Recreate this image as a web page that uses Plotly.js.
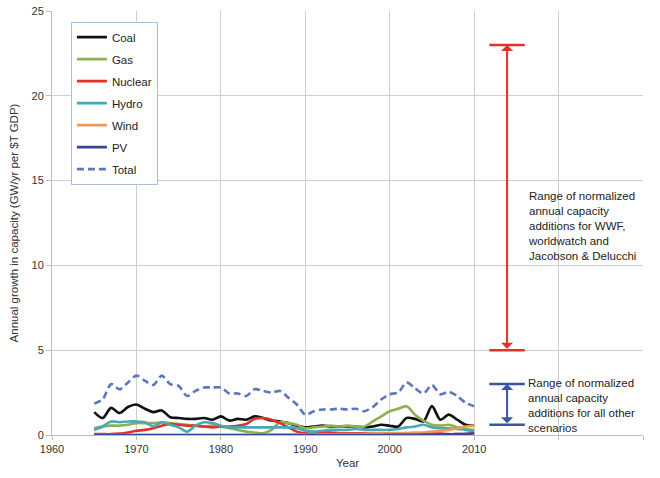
<!DOCTYPE html>
<html>
<head>
<meta charset="utf-8">
<script src="https://cdn.plot.ly/plotly-3.0.1.min.js"></script>
<style>html,body{margin:0;padding:0;background:#fff;}#chart{width:660px;height:478px;}</style>
</head>
<body>
<div id="chart"></div>
<script>
var years = [];
for (var yr = 1965; yr <= 2010; yr++) years.push(yr);

var coal = [1.35,1.0,1.6,1.3,1.65,1.8,1.55,1.35,1.45,1.05,1.0,0.95,0.95,1.0,0.9,1.1,0.85,0.95,0.9,1.1,1.0,0.85,0.8,0.7,0.55,0.45,0.5,0.55,0.5,0.5,0.5,0.5,0.45,0.5,0.6,0.55,0.5,1.0,0.95,0.8,1.7,0.9,1.2,0.9,0.6,0.55];
var gas = [0.4,0.5,0.55,0.55,0.6,0.7,0.7,0.7,0.75,0.7,0.65,0.6,0.55,0.5,0.55,0.5,0.4,0.3,0.2,0.15,0.1,0.3,0.75,0.7,0.6,0.4,0.45,0.5,0.55,0.5,0.55,0.5,0.5,0.8,1.1,1.4,1.55,1.7,1.2,0.85,0.6,0.55,0.6,0.45,0.35,0.3];
var nuclear = [0.05,0.05,0.05,0.08,0.15,0.25,0.3,0.4,0.55,0.65,0.6,0.55,0.55,0.5,0.45,0.5,0.5,0.55,0.65,0.95,1.0,0.9,0.7,0.45,0.2,0.1,0.1,0.15,0.15,0.1,0.1,0.1,0.1,0.08,0.08,0.1,0.08,0.1,0.08,0.08,0.1,0.08,0.05,0.05,0.05,0.1];
var hydro = [0.3,0.5,0.8,0.75,0.8,0.8,0.75,0.5,0.75,0.6,0.45,0.2,0.55,0.75,0.7,0.55,0.45,0.45,0.45,0.45,0.45,0.45,0.45,0.45,0.4,0.25,0.2,0.25,0.3,0.3,0.3,0.35,0.3,0.3,0.3,0.3,0.35,0.45,0.5,0.6,0.45,0.4,0.4,0.35,0.3,0.2];
var wind = [0,0,0,0,0,0,0,0,0,0,0,0,0,0,0,0,0,0,0,0,0,0.02,0.02,0.02,0.03,0.03,0.03,0.04,0.04,0.05,0.05,0.05,0.07,0.08,0.1,0.1,0.12,0.12,0.15,0.15,0.2,0.25,0.3,0.4,0.5,0.55];
var pv = [0,0,0,0,0,0,0,0,0,0,0,0,0,0,0,0,0,0,0,0,0,0,0,0,0,0,0,0,0,0,0,0,0,0,0,0.01,0.01,0.01,0.01,0.02,0.02,0.03,0.04,0.05,0.07,0.1];
var total = [1.85,2.1,3.0,2.7,3.1,3.5,3.2,2.95,3.5,3.0,2.9,2.3,2.6,2.8,2.8,2.8,2.45,2.45,2.3,2.7,2.6,2.5,2.6,2.2,1.8,1.2,1.4,1.5,1.5,1.55,1.5,1.55,1.4,1.65,2.1,2.4,2.5,3.1,2.75,2.45,2.95,2.4,2.55,2.3,1.9,1.7];

var seriesNames = ['Coal','Gas','Nuclear','Hydro','Wind','PV','Total'];
var seriesData = [coal, gas, nuclear, hydro, wind, pv, total];
var seriesColors = ['#111111','#8fb04c','#e2302a','#47a9b5','#e99a5a','#38479a','#5a78c0'];

var tickYears = [1960,1970,1980,1990,2000,2010,2020,2030];
var tickLabels = ['1960','1970','1980','1990','2000','2010','',''];

// Scenario ranges (x position in years, y range in GW/yr per $T GDP)
var rangeX = 2013.9;
var rangeHalfCap = 2.1;
var rangeHigh = [5, 23];
var rangeLow = [0.6, 3];
var highColor = '#e2302a';
var lowColor = '#3b55a5';

var traces = seriesNames.map(function(n, i) {
  return {
    x: years, y: seriesData[i], name: n, type: 'scatter', mode: 'lines',
    legendgroup: n,
    line: {color: seriesColors[i], width: 2.6, shape: 'spline', smoothing: 0.8,
           dash: n === 'Total' ? '7px,4px' : 'solid'}
  };
});

var shapes = [];
[[rangeHigh, highColor], [rangeLow, lowColor]].forEach(function(r) {
  r[0].forEach(function(v) {
    shapes.push({type: 'line', xref: 'x', yref: 'y', x0: rangeX - rangeHalfCap, x1: rangeX + rangeHalfCap,
                 y0: v, y1: v, line: {color: r[1], width: 2.5}});
  });
});

function dblArrow(rng, col) {
  return {x: rangeX, y: rng[1], ax: rangeX, ay: rng[0], xref: 'x', yref: 'y', axref: 'x', ayref: 'y',
          showarrow: true, arrowhead: 1, startarrowhead: 1, arrowside: 'end+start', arrowsize: 1, startarrowsize: 1,
          arrowwidth: 2, arrowcolor: col, text: ''};
}

var annotations = [
  dblArrow(rangeHigh, highColor),
  dblArrow(rangeLow, lowColor),
  {x: 2016.2, y: 12.3, xref: 'x', yref: 'y', xanchor: 'left', yanchor: 'middle', align: 'left', showarrow: false,
   text: 'Range of normalized<br>annual capacity<br>additions for WWF,<br>worldwatch and<br>Jacobson &amp; Delucchi',
   font: {family: 'Liberation Sans, Arial, sans-serif', size: 11.5, color: '#222'}},
  {x: 2016.2, y: 1.72, xref: 'x', yref: 'y', xanchor: 'left', yanchor: 'middle', align: 'left', showarrow: false,
   text: 'Range of normalized<br>annual capacity<br>additions for all other<br>scenarios',
   font: {family: 'Liberation Sans, Arial, sans-serif', size: 11.5, color: '#222'}}
];

var layout = {
  width: 660, height: 478,
  margin: {l: 52, r: 17, t: 11, b: 43},
  paper_bgcolor: '#fff', plot_bgcolor: '#fff',
  font: {family: 'Liberation Sans, Arial, sans-serif', size: 11, color: '#333'},
  showlegend: true,
  legend: {x: 0.032, y: 0.975, xanchor: 'left', yanchor: 'top', bgcolor: '#fff',
           bordercolor: '#a9c1dd', borderwidth: 1, font: {size: 11.5, color: '#222'},
           traceorder: 'grouped', tracegroupgap: 3},
  xaxis: {range: [1960, 2030], tickvals: tickYears, ticktext: tickLabels, showgrid: true,
          gridcolor: '#cfcfcf', gridwidth: 1, zeroline: false, showline: true, linecolor: '#bdbdbd', linewidth: 1,
          ticks: 'outside', ticklen: 4, tickcolor: '#bdbdbd', fixedrange: true,
          title: {text: 'Year', font: {size: 11.5, color: '#333'}, standoff: 4}},
  yaxis: {range: [0, 25], tickvals: [0,5,10,15,20,25], showgrid: true, gridcolor: '#cfcfcf', gridwidth: 1,
          zeroline: false, showline: true, linecolor: '#bdbdbd', linewidth: 1, ticks: 'outside', ticklen: 5,
          tickcolor: '#bdbdbd', fixedrange: true,
          title: {text: 'Annual growth in capacity (GW/yr per $T GDP)', font: {size: 11.5, color: '#333'}, standoff: 10}},
  shapes: shapes,
  annotations: annotations
};

Plotly.newPlot('chart', traces, layout, {staticPlot: true, displayModeBar: false});
</script>
</body>
</html>
